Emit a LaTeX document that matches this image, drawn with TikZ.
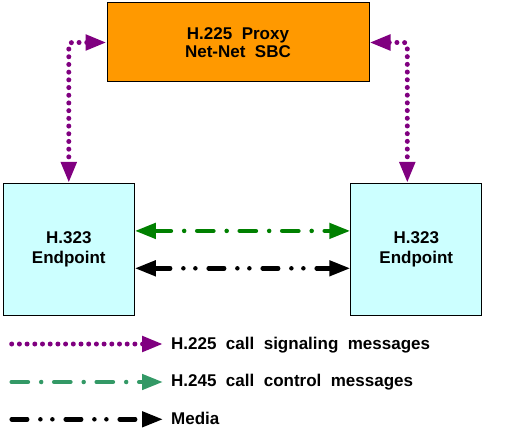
\documentclass[tikz,border=0pt]{standalone}
\usepackage{fontspec}
\setmainfont{Liberation Sans}[WordSpace=2]
\usetikzlibrary{arrows.meta}
\definecolor{proxyorange}{HTML}{FF9900}
\definecolor{epcyan}{HTML}{CCFFFF}
\definecolor{sigpurple}{HTML}{800080}
\definecolor{ctlgreen}{HTML}{008000}
\definecolor{ctlgreenlight}{HTML}{339966}
\tikzset{
  boxbase/.style={draw=black, line width=1pt, inner sep=0pt, align=center,
    font=\bfseries\fontsize{17pt}{18.5pt}\selectfont},
  proxybox/.style={boxbase, fill=proxyorange, minimum width=262pt, minimum height=79pt},
  epbox/.style={boxbase, fill=epcyan, minimum width=131pt, minimum height=131.7pt,
    font=\bfseries\fontsize{17pt}{20.7pt}\selectfont},
  tipstyle/.style={-{Triangle[length=21pt,width=15pt]}},
  bothtips/.style={{Triangle[length=21pt,width=15pt]}-{Triangle[length=21pt,width=15pt]}},
  sigline/.style={draw=sigpurple, line width=5pt, line cap=round,
    dash pattern=on 0pt off 7.7pt, rounded corners=3pt},
  ctlline/.style={line width=4.5pt, line cap=round,
    dash pattern=on 16.2pt off 13.3pt on 0pt off 13pt},
  medline/.style={draw=black, line width=4.5pt, line cap=round,
    dash pattern=on 15.5pt off 13.2pt on 0pt off 12pt on 0pt off 13.3pt},
  legtext/.style={anchor=base west, inner sep=0pt,
    font=\bfseries\fontsize{17pt}{20pt}\selectfont},
}
\begin{document}
\begin{tikzpicture}[x=1pt,y=-1pt]
\useasboundingbox (0,0) rectangle (527,441);
\node[proxybox] (px) at (238,42.5) {H.225 Proxy\\Net-Net SBC};
\node[epbox] (le) at (68.8,249.2) {H.323\\Endpoint};
\node[epbox] (re) at (416.3,249.2) {H.323\\Endpoint};
% H.225 signaling
\draw[sigline, bothtips, sigpurple] (px.west) -| (le.north);
\draw[sigline, bothtips, sigpurple] (px.east) -| ([xshift=-9pt]re.north);
% H.245 control
\draw[ctlline, ctlgreen, bothtips]
  ([yshift=18.3pt]le.east) -- ([yshift=18.3pt]re.west);
% Media
\draw[medline, bothtips]
  ([yshift=-19.1pt]le.east) -- ([yshift=-19.1pt]re.west);
% Legend
\node[legtext] (t1) at (171,349.5) {H.225 call signaling messages};
\node[legtext] (t2) at (171,386.7) {H.245 call control messages};
\node[legtext] (t3) at (171,424.2) {Media};
\coordinate (s1) at (11.7,344);
\coordinate (s2) at (11.7,382);
\coordinate (s3) at (11.7,419.3);
\coordinate (e1) at (163,344);
\coordinate (e2) at (163,382);
\coordinate (e3) at (163,419.3);
\draw[sigline, sigpurple, tipstyle] (s1) -- (e1);
\draw[ctlline, ctlgreenlight, tipstyle] (s2) -- (e2);
\draw[medline, tipstyle] (s3) -- (e3);
\end{tikzpicture}
\end{document}
